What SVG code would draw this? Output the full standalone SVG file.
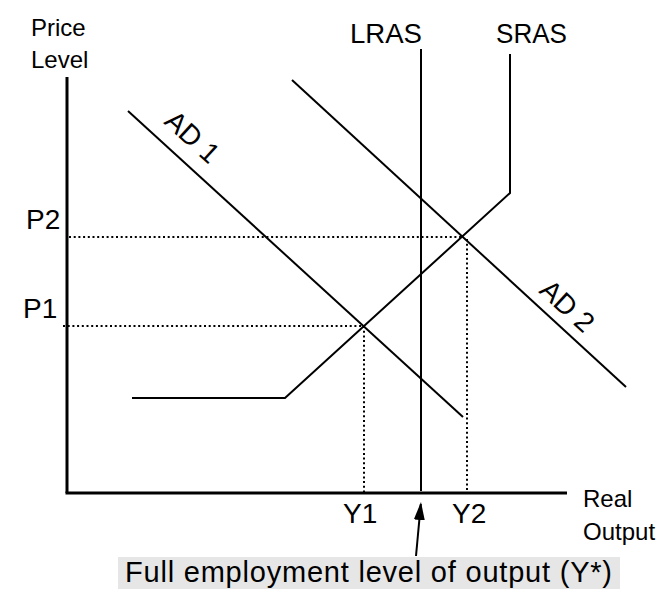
<svg xmlns="http://www.w3.org/2000/svg" width="664" height="589" viewBox="0 0 664 589">
<defs>
<style>
.t{font-family:"Liberation Sans",Arial,sans-serif;fill:#000}
.s24{font-size:24px}
.s28{font-size:28px}
.ln{stroke:#000;stroke-width:2;fill:none}
.ax{stroke:#000;stroke-width:3;fill:none}
.dot{stroke:#000;stroke-width:2;fill:none;stroke-dasharray:2 2.7}
</style>
<marker id="ah" markerUnits="userSpaceOnUse" markerWidth="20" markerHeight="12" refX="16" refY="5.5" orient="auto">
<path d="M0,0 L18,5.5 L0,11 Z" fill="#000"/>
</marker>
</defs>
<rect width="664" height="589" fill="#fff"/>
<g id="axes">
<line class="ax" x1="67" y1="77" x2="67" y2="493"/>
<line class="ax" x1="65.5" y1="493" x2="567" y2="493"/>
<text class="t s24" x="31" y="36">Price</text>
<text class="t s24" x="31" y="68">Level</text>
<text class="t s24" x="583" y="507">Real</text>
<text class="t s24" x="583" y="540">Output</text>
</g>
<g id="guides">
<line class="dot" x1="69" y1="237" x2="462" y2="237"/>
<line class="dot" x1="63" y1="326" x2="364" y2="326"/>
<line class="dot" x1="364" y1="326" x2="364" y2="492"/>
<line class="dot" x1="467" y1="239" x2="467" y2="492"/>
<text class="t s28" x="26" y="229">P2</text>
<text class="t s28" x="23" y="318">P1</text>
<text class="t s28" x="343" y="523">Y1</text>
<text class="t s28" x="452" y="523">Y2</text>
</g>
<g id="lras">
<line class="ln" x1="421" y1="49" x2="421" y2="491"/>
<text class="t s28" x="350" y="43" textLength="72" lengthAdjust="spacingAndGlyphs">LRAS</text>
</g>
<g id="sras">
<polyline class="ln" points="132,398 285,398 510,193 510,54"/>
<text class="t s28" x="496" y="43" textLength="71" lengthAdjust="spacingAndGlyphs">SRAS</text>
</g>
<g id="ad1">
<line class="ln" x1="128" y1="111" x2="463" y2="417"/>
<text class="t s28" transform="translate(163,123) rotate(42.4)">AD 1</text>
</g>
<g id="ad2">
<line class="ln" x1="292" y1="80" x2="626" y2="387"/>
<text class="t s28" transform="translate(538,292) rotate(42.6)">AD 2</text>
</g>
<g id="fullemp">
<rect x="118" y="557" width="502" height="32" fill="#e6e6e6"/>
<text class="t" style="font-size:29px" x="125" y="582" textLength="487" lengthAdjust="spacing">Full employment level of output (Y*)</text>
</g>
<g id="connectors">
<line class="ln" x1="416" y1="556" x2="420.8" y2="504" marker-end="url(#ah)"/>
</g>
</svg>
